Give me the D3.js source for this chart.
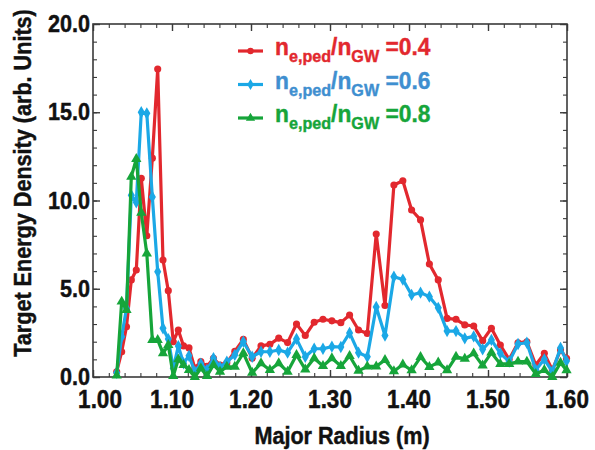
<!DOCTYPE html>
<html>
<head>
<meta charset="utf-8">
<script src="https://cdn.jsdelivr.net/npm/d3@7"></script>
<style>
  html, body { margin: 0; padding: 0; background: #fff; }
  svg { display: block; }
  text { font-family: "Liberation Sans", Arial, sans-serif; font-weight: bold; }
</style>
</head>
<body>
<svg id="chart" width="595" height="450"></svg>
<script>
// Major radius along the target (m)
const radius = [1.0300, 1.0363, 1.0424, 1.0485, 1.0548, 1.0611, 1.0681, 1.0751, 1.0819, 1.0886,
  1.0953, 1.1016, 1.1080, 1.1146, 1.1215, 1.1289, 1.1365, 1.1443, 1.1525, 1.1608,
  1.1694, 1.1795, 1.1903, 1.2015, 1.2127, 1.2239, 1.2351, 1.2463, 1.2576, 1.2687,
  1.2800, 1.2911, 1.3024, 1.3137, 1.3248, 1.3361, 1.3472, 1.3585, 1.3696, 1.3809,
  1.3922, 1.4033, 1.4146, 1.4258, 1.4370, 1.4482, 1.4595, 1.4706, 1.4819, 1.4932,
  1.5043, 1.5156, 1.5268, 1.5380, 1.5492, 1.5605, 1.5713, 1.5814, 1.5918, 1.5994];

// Target energy density (arb. units) for each pedestal density fraction
const density04 = [0.3, 1.43, 2.85, 5.5, 6.06, 11.26, 8.0, 12.4, 17.45, 6.63,
  4.89, 2.0, 2.66, 1.76, 1.65, 0.5, 0.87, 0.6, 1.06, 0.68,
  0.8, 1.45, 2.13, 1.06, 1.76, 1.85, 2.2, 1.95, 3.0, 2.35,
  3.1, 3.27, 3.18, 3.08, 3.51, 2.66, 2.47, 8.1, 4.05, 10.88,
  11.12, 9.46, 8.9, 6.4, 5.5, 3.32, 3.27, 2.95, 2.89, 2.06,
  2.76, 1.81, 1.0, 1.94, 2.0, 0.68, 1.34, 0.4, 1.53, 1.06];
const density06 = [0.24, 2.28, 3.9, 10.3, 9.9, 15.0, 14.94, 10.2, 5.97, 2.76,
  2.15, 0.49, 1.75, 0.78, 1.2, 0.3, 0.75, 0.4, 1.06, 0.55,
  0.87, 1.25, 2.0, 1.15, 1.43, 1.43, 1.53, 1.38, 2.16, 1.15,
  1.6, 1.6, 1.72, 1.7, 2.5, 1.38, 1.15, 3.97, 2.35, 5.68,
  5.52, 4.65, 4.78, 4.55, 3.92, 2.6, 2.6, 2.19, 2.3, 1.57,
  2.1, 1.34, 0.87, 1.87, 1.94, 0.4, 1.0, 0.3, 1.65, 0.9];
const density08 = [0.08, 4.27, 3.8, 11.35, 12.35, 9.3, 7.0, 2.1, 2.1, 1.34,
  1.81, 0.05, 1.0, 0.68, 0.4, 0.0, 0.49, 0.06, 0.68, 0.3,
  0.58, 0.58, 1.35, 0.24, 0.78, 0.4, 0.78, 0.3, 1.25, 0.43,
  1.06, 0.62, 1.06, 0.62, 1.19, 0.35, 0.6, 0.6, 0.96, 0.33,
  0.71, 0.38, 1.13, 0.57, 0.82, 0.38, 1.15, 1.03, 1.34, 0.65,
  1.38, 0.74, 0.74, 0.87, 0.87, 0.17, 0.4, 0.0, 0.81, 0.38];

const seriesValues = ["0.4", "0.6", "0.8"];
const xTickValues = [1.0, 1.1, 1.2, 1.3, 1.4, 1.5, 1.6];
const yTickValues = [0, 5, 10, 15, 20];

const series = [
  { label: seriesValues[0], values: density04, line: "#e2282e", text: "#e2282e", shape: d3.symbolCircle, size: 40 },
  { label: seriesValues[1], values: density06, line: "#1ba8e6", text: "#3f8fd0", shape: d3.symbolDiamond, size: 44 },
  { label: seriesValues[2], values: density08, line: "#16a53a", text: "#16a53a", shape: d3.symbolTriangle, size: 46 }
];

const svg = d3.select("#chart");
const plot = { left: 93, right: 567, top: 24, bottom: 377 };
const x = d3.scaleLinear().domain([1.0, 1.6]).range([plot.left, plot.right]);
const y = d3.scaleLinear().domain([0, 20]).range([plot.bottom, plot.top]);

const squeeze = 0.9;     // horizontal condensing of all lettering
const axisColor = "#3a3a3a";

// Text placed through a transform so it can be narrowed horizontally
function label(g, str, px, py, opts) {
  const o = Object.assign({ size: 24, anchor: "middle", fill: "#111", rotate: 0 }, opts || {});
  return g.append("text")
    .attr("transform", `translate(${px},${py}) rotate(${o.rotate}) scale(${squeeze},1)`)
    .attr("text-anchor", o.anchor)
    .attr("font-size", o.size)
    .attr("fill", o.fill)
    .attr("stroke", o.fill)
    .attr("stroke-width", 0.45)
    .text(str);
}

// ---- Axes with inward ticks on all four sides ----
const axes = svg.append("g");
const xMinor = d3.range(1.0, 1.6001, 0.02);
const yMinor = d3.range(0, 20.001, 1);

function tickLines(sel, major) {
  return sel.call(g => g.selectAll("path").remove())
    .call(g => g.selectAll("line").attr("stroke", axisColor).attr("stroke-width", major ? 1.4 : 1.1));
}

[[xMinor, -4, false], [xTickValues, -7, true]].forEach(([vals, len, major]) => {
  axes.append("g").attr("transform", `translate(0,${plot.bottom})`)
    .call(d3.axisBottom(x).tickValues(vals).tickSizeInner(len).tickSizeOuter(0).tickFormat(""))
    .call(g => tickLines(g, major));
  axes.append("g").attr("transform", `translate(0,${plot.top})`)
    .call(d3.axisTop(x).tickValues(vals).tickSizeInner(len).tickSizeOuter(0).tickFormat(""))
    .call(g => tickLines(g, major));
});
[[yMinor, -4, false], [yTickValues, -7, true]].forEach(([vals, len, major]) => {
  axes.append("g").attr("transform", `translate(${plot.left},0)`)
    .call(d3.axisLeft(y).tickValues(vals).tickSizeInner(len).tickSizeOuter(0).tickFormat(""))
    .call(g => tickLines(g, major));
  axes.append("g").attr("transform", `translate(${plot.right},0)`)
    .call(d3.axisRight(y).tickValues(vals).tickSizeInner(len).tickSizeOuter(0).tickFormat(""))
    .call(g => tickLines(g, major));
});

axes.append("rect")
  .attr("x", x(1.0)).attr("y", y(20))
  .attr("width", x(1.6) - x(1.0)).attr("height", y(0) - y(20))
  .attr("fill", "none").attr("stroke", axisColor).attr("stroke-width", 1.6);

// Tick labels (the first x label is nudged clear of the y labels)
const fmtX = d3.format(".2f"), fmtY = d3.format(".1f");
const labels = svg.append("g");
xTickValues.forEach((v, i) => label(labels, fmtX(v), x(v) + (i === 0 ? 7 : 0), plot.bottom + 31, { size: 25 }));
yTickValues.forEach(v => label(labels, fmtY(v), plot.left - 3, y(v) + 8, { size: 24, anchor: "end" }));

// Axis titles
label(labels, "Major Radius (m)", 342, 444, { size: 24 });
label(labels, "Target Energy Density (arb. Units)", 31, 183, { size: 24, rotate: -90 });

// ---- Data lines and markers ----
const lineGen = d3.line().x((d, i) => x(radius[i])).y(d => y(d));
const marks = svg.append("g");
series.forEach(s => {
  const g = marks.append("g");
  g.append("path")
    .attr("d", lineGen(s.values))
    .attr("fill", "none")
    .attr("stroke", s.line)
    .attr("stroke-width", 3.2)
    .attr("stroke-linejoin", "round");
  g.selectAll("path.mk").data(s.values).join("path")
    .attr("class", "mk")
    .attr("d", d3.symbol().type(s.shape).size(s.size))
    .attr("transform", (d, i) => `translate(${x(radius[i])},${y(d)})`)
    .attr("fill", s.line);
});

// ---- Legend ----
const legend = svg.append("g");
series.forEach((s, i) => {
  const ly = 51 + i * 33.5;
  legend.append("line")
    .attr("x1", 238).attr("x2", 263).attr("y1", ly).attr("y2", ly)
    .attr("stroke", s.line).attr("stroke-width", 3.2);
  legend.append("path")
    .attr("d", d3.symbol().type(s.shape).size(s.size * 0.8))
    .attr("transform", `translate(250.5,${ly})`)
    .attr("fill", s.line);
  const t = legend.append("text")
    .attr("transform", `translate(275,${ly + 4}) scale(0.95,1)`)
    .attr("font-size", 24)
    .attr("fill", s.text)
    .attr("stroke", s.text)
    .attr("stroke-width", 0.4);
  t.append("tspan").text("n");
  t.append("tspan").attr("font-size", 17).attr("dy", 7).text("e,ped");
  t.append("tspan").attr("dy", -7).text("/n");
  t.append("tspan").attr("font-size", 17).attr("dy", 7).text("GW");
  t.append("tspan").attr("dy", -7).text(" =" + s.label);
});
</script>
</body>
</html>
